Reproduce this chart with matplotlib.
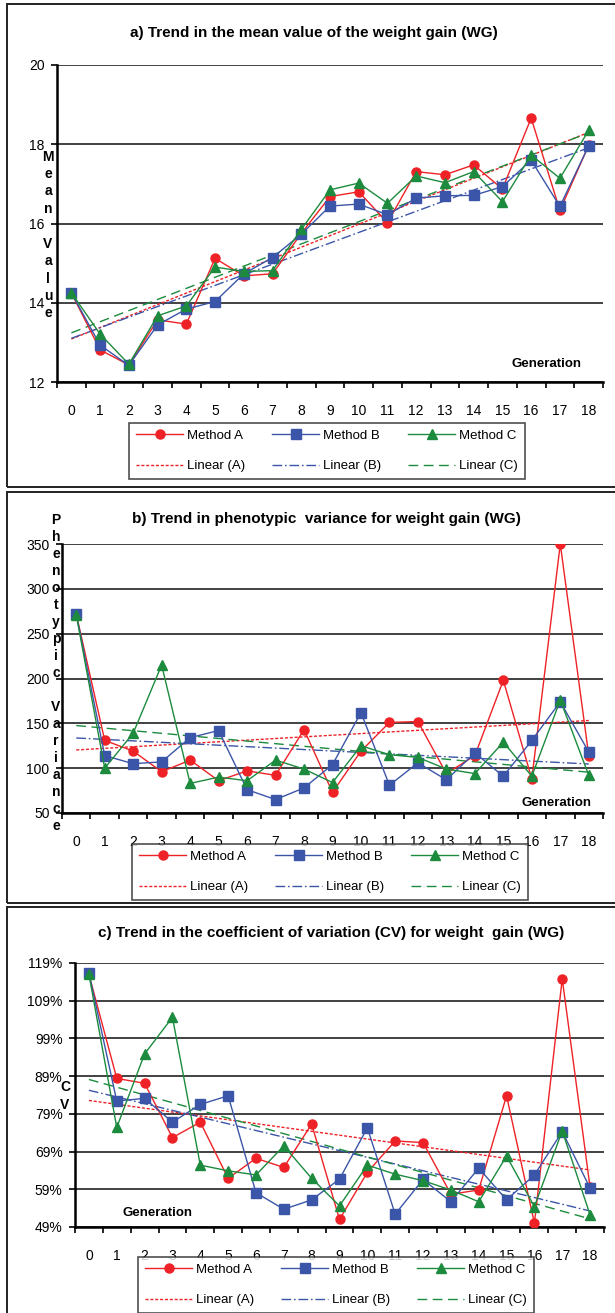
import numpy as np
import matplotlib
matplotlib.use("Agg")
import matplotlib.pyplot as plt
from matplotlib.patches import Rectangle
from matplotlib.lines import Line2D
from matplotlib.ticker import FuncFormatter

plt.rcParams['font.family'] = ['Liberation Sans', 'DejaVu Sans']

# generations 0..18
gen = list(range(19))

# a) mean value of weight gain
mean_a = [14.25, 12.81, 12.43, 13.57, 13.46, 15.12, 14.68, 14.73, 15.75, 16.68,
          16.80, 16.02, 17.31, 17.23, 17.48, 16.87, 18.66, 16.33, 17.97]
mean_b = [14.25, 12.93, 12.42, 13.44, 13.84, 14.03, 14.73, 15.14, 15.73, 16.44,
          16.49, 16.22, 16.64, 16.70, 16.71, 16.93, 17.60, 16.43, 17.96]
mean_c = [14.25, 13.21, 12.45, 13.67, 13.92, 14.90, 14.79, 14.81, 15.85, 16.85,
          17.02, 16.51, 17.20, 17.03, 17.31, 16.55, 17.73, 17.14, 18.35]

# b) phenotypic variance
var_a = [272, 131, 119, 96, 109, 86, 97, 92, 143, 73,
         119, 151, 152, 94, 114, 198, 88, 350, 114]
var_b = [272, 114, 105, 107, 134, 142, 76, 65, 78, 104,
         162, 81, 106, 87, 117, 91, 131, 174, 118]
var_c = [271, 100, 139, 215, 83, 90, 86, 109, 99, 84,
         125, 115, 112, 99, 94, 129, 91, 176, 92]

# c) coefficient of variation (%)
cv_a = [116.0, 88.4, 87.1, 72.7, 76.8, 61.9, 67.2, 64.8, 76.3, 51.0,
        63.5, 71.8, 71.4, 57.7, 58.8, 83.8, 50.0, 114.8, 59.5]
cv_b = [116.3, 82.4, 83.1, 76.8, 81.5, 83.8, 58.1, 53.7, 56.2, 61.7,
        75.3, 52.4, 61.6, 55.7, 64.6, 56.2, 62.8, 74.3, 59.3]
cv_c = [116.0, 75.4, 94.9, 104.6, 65.4, 63.9, 62.8, 70.5, 61.9, 54.6,
        65.4, 63.0, 61.3, 58.8, 55.7, 67.8, 54.4, 74.5, 52.2]

method_names = ['Method A', 'Method B', 'Method C']
trend_names = ['Linear (A)', 'Linear (B)', 'Linear (C)']
colors = ['#EE2226', '#3B55A8', '#1C8B3E']
markers = ['o', 's', '^']
trend_dashes = [(2.2, 1.3), (7, 2, 1.2, 2), (7, 4)]

W, H = 615, 1313
fig = plt.figure(figsize=(W / 100, H / 100), dpi=100)


def px_rect(left, top, right, bottom):
    return [left / W, 1 - bottom / H, (right - left) / W, (bottom - top) / H]


def draw_panel(box, axrect, title, title_xy, series, yticks, ylabel, ylabel_xy,
               gen_xy, legend_xy, fmt=None, lsp=1.3):
    # outer frame of the panel
    fig.patches.append(Rectangle((box[0] / W, 1 - box[3] / H), (box[2] - box[0]) / W,
                                 (box[3] - box[1]) / H, transform=fig.transFigure,
                                 fill=False, edgecolor='#222222', linewidth=1.4))
    ax = fig.add_axes(px_rect(*axrect))
    x = np.array(gen)
    for vals, c, m in zip(series, colors, markers):
        ax.plot(x, vals, color=c, lw=1.0, marker=m, ms=6.5, mec=c, mfc=c, zorder=3)
    for vals, c, d in zip(series, colors, trend_dashes):
        k, b = np.polyfit(x, vals, 1)
        ax.plot(x, k * x + b, color=c, lw=1.0, dashes=d, zorder=2)

    ax.set_xlim(-0.5, 18.5)
    ax.set_ylim(yticks[0], yticks[-1])
    ax.set_yticks(yticks)
    if fmt:
        ax.yaxis.set_major_formatter(FuncFormatter(fmt))
    ax.set_xticks(gen)
    ax.set_xticks(np.arange(-0.5, 19, 1), minor=True)
    ax.tick_params(axis='x', which='major', length=0, pad=16, labelsize=10)
    ax.tick_params(axis='x', which='minor', length=4, width=1.2, direction='out')
    ax.tick_params(axis='y', length=4, width=1.2, direction='out', pad=5, labelsize=10)
    for s in ['top', 'right']:
        ax.spines[s].set_visible(False)
    ax.spines['left'].set_linewidth(1.8)
    ax.spines['bottom'].set_linewidth(1.8)
    ax.yaxis.grid(True, color='#333333', lw=1.3)
    ax.set_axisbelow(True)

    fig.text(title_xy[0] / W, 1 - title_xy[1] / H, title, ha='center', va='center',
             fontsize=11, fontweight='bold')
    fig.text(ylabel_xy[0] / W, 1 - ylabel_xy[1] / H, '\n'.join(ylabel), ha='center',
             va='center', fontsize=10, fontweight='bold', linespacing=lsp)
    fig.text(gen_xy[0] / W, 1 - gen_xy[1] / H, 'Generation', ha='center', va='center',
             fontsize=9.5, fontweight='bold')

    handles = [Line2D([], [], color=c, lw=1.0, marker=m, ms=6.5, mec=c, mfc=c)
               for c, m in zip(colors, markers)]
    handles += [Line2D([], [], color=c, lw=1.0, dashes=d)
                for c, d in zip(colors, trend_dashes)]
    labels = method_names + trend_names
    # reorder so the legend fills row by row
    order = [0, 3, 1, 4, 2, 5]
    leg = fig.legend([handles[i] for i in order], [labels[i] for i in order], ncol=3,
                     loc='center', bbox_to_anchor=(legend_xy[0] / W, 1 - legend_xy[1] / H),
                     fontsize=9.5, frameon=True, fancybox=False, edgecolor='#222222',
                     handlelength=3.6, columnspacing=2.0, labelspacing=1.35,
                     handletextpad=0.3, borderpad=0.55)
    leg.get_frame().set_linewidth(1.2)
    return ax


draw_panel((7, 4, 620, 487), (57, 65, 603, 382),
           'a) Trend in the mean value of the weight gain (WG)', (314, 33),
           [mean_a, mean_b, mean_c], [12, 14, 16, 18, 20],
           list('Mean') + [''] + list('Value'), (48, 235), (547, 364), (327, 451),
           lsp=1.31)

draw_panel((7, 492, 620, 903), (62, 544, 603, 813),
           'b) Trend in phenotypic  variance for weight gain (WG)', (326, 519),
           [var_a, var_b, var_c], [50, 100, 150, 200, 250, 300, 350],
           list('Phenotypic') + [''] + list('Variance'), (56, 673), (557, 803), (330, 872),
           lsp=1.27)

draw_panel((7, 907, 620, 1320), (75, 963, 604, 1227),
           'c) Trend in the coefficient of variation (CV) for weight  gain (WG)', (331, 933),
           [cv_a, cv_b, cv_c], [49, 59, 69, 79, 89, 99, 109, 119],
           list('CV'), (65, 1096), (157, 1213), (336, 1285),
           fmt=lambda v, p: '%d%%' % v, lsp=1.3)

fig.savefig('out.png', dpi=100)
